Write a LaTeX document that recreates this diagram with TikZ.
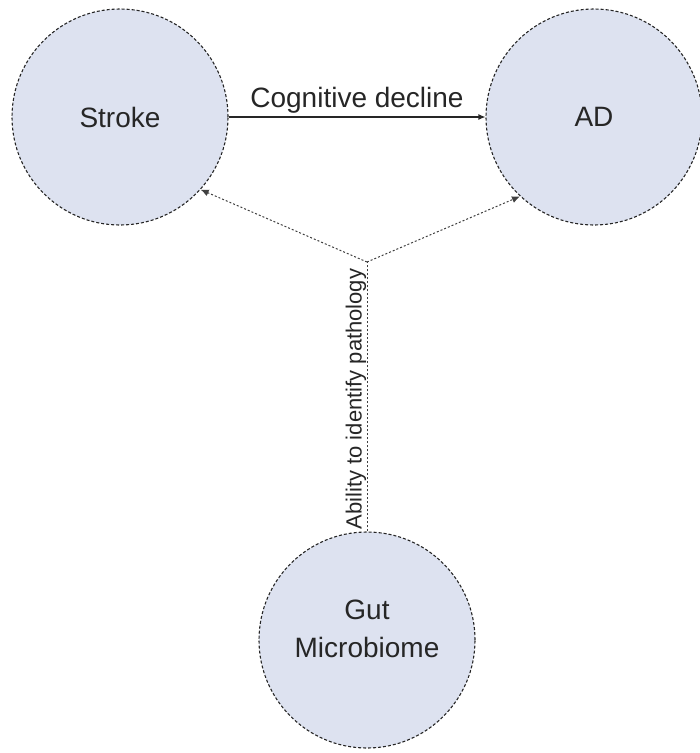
\documentclass[tikz,border=0pt]{standalone}
\usepackage{fontspec}
\setmainfont{Liberation Sans}
\usetikzlibrary{arrows.meta}
\definecolor{nodefill}{RGB}{221,226,240}
\begin{document}
\begin{tikzpicture}[x=1pt,y=-1pt,
  circ/.style={circle,draw=black!85,dash pattern=on 3pt off 2pt,fill=nodefill,
    minimum size=216pt,inner sep=0pt,line width=1.1pt,text=black!85,
    font=\fontsize{28}{38}\selectfont,align=center},
  solidarrow/.style={draw=black!85,line width=1.1pt,-{Latex[length=7pt,width=6pt]}},
  dotarrow/.style={draw=black!75,line width=1pt,dash pattern=on 2pt off 2pt,-{Latex[length=8pt,width=7pt]}},
  dotline/.style={draw=black!75,line width=1pt,dash pattern=on 2pt off 2pt},
  lbl/.style={font=\fontsize{28}{34}\selectfont,text=black!85},
  vlbl/.style={font=\fontsize{22}{26}\selectfont,text=black!85,rotate=90,fill=white,inner sep=1pt}]
\useasboundingbox (0,0) rectangle (700,753);
\node[circ] (stroke) at (120,117) {Stroke};
\node[circ] (ad) at (594,117) {AD};
\node[circ,text depth=22pt] (gut) at (367,640) {Gut\\Microbiome};
\coordinate (j) at (367,262);
\draw[solidarrow] (stroke.east) -- node[lbl,above=0pt] {Cognitive decline} (ad.west);
\draw[dotline] (gut.north) -- (j);
\node[vlbl] (vl) at (356,399) {Ability to identify pathology};
\draw[dotarrow] (j) -- (stroke.-42);
\draw[dotarrow] (j) -- (ad.-133);
\end{tikzpicture}
\end{document}
